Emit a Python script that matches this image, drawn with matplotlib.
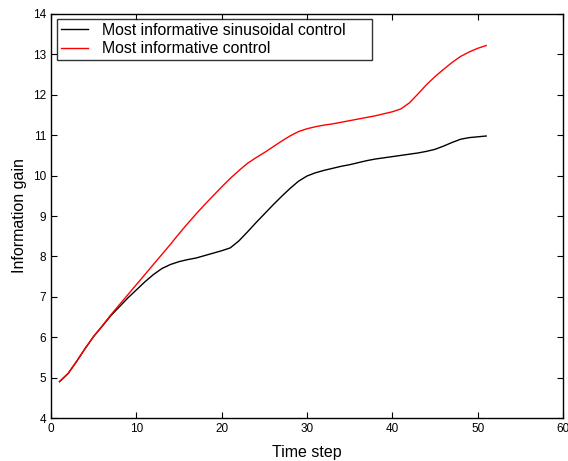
import matplotlib
matplotlib.use('Agg')
import matplotlib.pyplot as plt
import numpy as np

plt.rcParams['font.family'] = ['Liberation Sans', 'DejaVu Sans']

# time steps 1..51
steps = list(range(1, 52))

sinusoidal = [4.90, 5.10, 5.40, 5.72, 6.02, 6.27, 6.53, 6.75, 6.97, 7.17,
              7.37, 7.55, 7.70, 7.80, 7.87, 7.92, 7.96, 8.02, 8.08, 8.14,
              8.21, 8.38, 8.60, 8.83, 9.05, 9.27, 9.48, 9.68, 9.86, 9.99,
              10.07, 10.13, 10.18, 10.23, 10.27, 10.32, 10.37, 10.41, 10.44, 10.47,
              10.50, 10.53, 10.56, 10.60, 10.65, 10.73, 10.82, 10.90, 10.94, 10.96,
              10.98]

control = [4.90, 5.10, 5.40, 5.72, 6.02, 6.28, 6.55, 6.80, 7.05, 7.30,
           7.55, 7.80, 8.05, 8.30, 8.56, 8.81, 9.05, 9.28, 9.50, 9.72,
           9.93, 10.12, 10.30, 10.44, 10.57, 10.71, 10.85, 10.98, 11.09, 11.16,
           11.21, 11.25, 11.28, 11.32, 11.36, 11.40, 11.44, 11.48, 11.53, 11.58,
           11.65, 11.80, 12.02, 12.25, 12.45, 12.63, 12.80, 12.95, 13.06, 13.15,
           13.22]

fig = plt.figure(figsize=(5.68, 4.61), dpi=100)
ax = fig.add_axes([51 / 568, 43 / 461, 512 / 568, 404 / 461])

ax.plot(steps, sinusoidal, color='k', lw=1.0, label='Most informative sinusoidal control')
ax.plot(steps, control, color='r', lw=1.0, label='Most informative control')

ax.set_xlim(0, 60)
ax.set_ylim(4, 14)
ax.set_xticks(np.arange(0, 61, 10))
ax.set_yticks(np.arange(4, 15, 1))
ax.tick_params(direction='in', top=True, right=True, length=4, labelsize=8.5)
for s in ax.spines.values():
    s.set_linewidth(1.0)

ax.set_xlabel('Time step', fontsize=11.5, labelpad=7.5)
ax.set_ylabel('Information gain', fontsize=11.5)

# matlab-style legend box, wider than its text
leg = ax.legend(loc='upper left', bbox_to_anchor=(0.0117, 0.0, 0.6152, 0.9876),
                mode='expand', borderaxespad=0, fontsize=11.4, frameon=True,
                fancybox=False, edgecolor='k', handlelength=1.7,
                handletextpad=0.9, borderpad=0.25, labelspacing=0.2)
leg.get_frame().set_linewidth(1.0)

fig.savefig('out.png', dpi=100)
